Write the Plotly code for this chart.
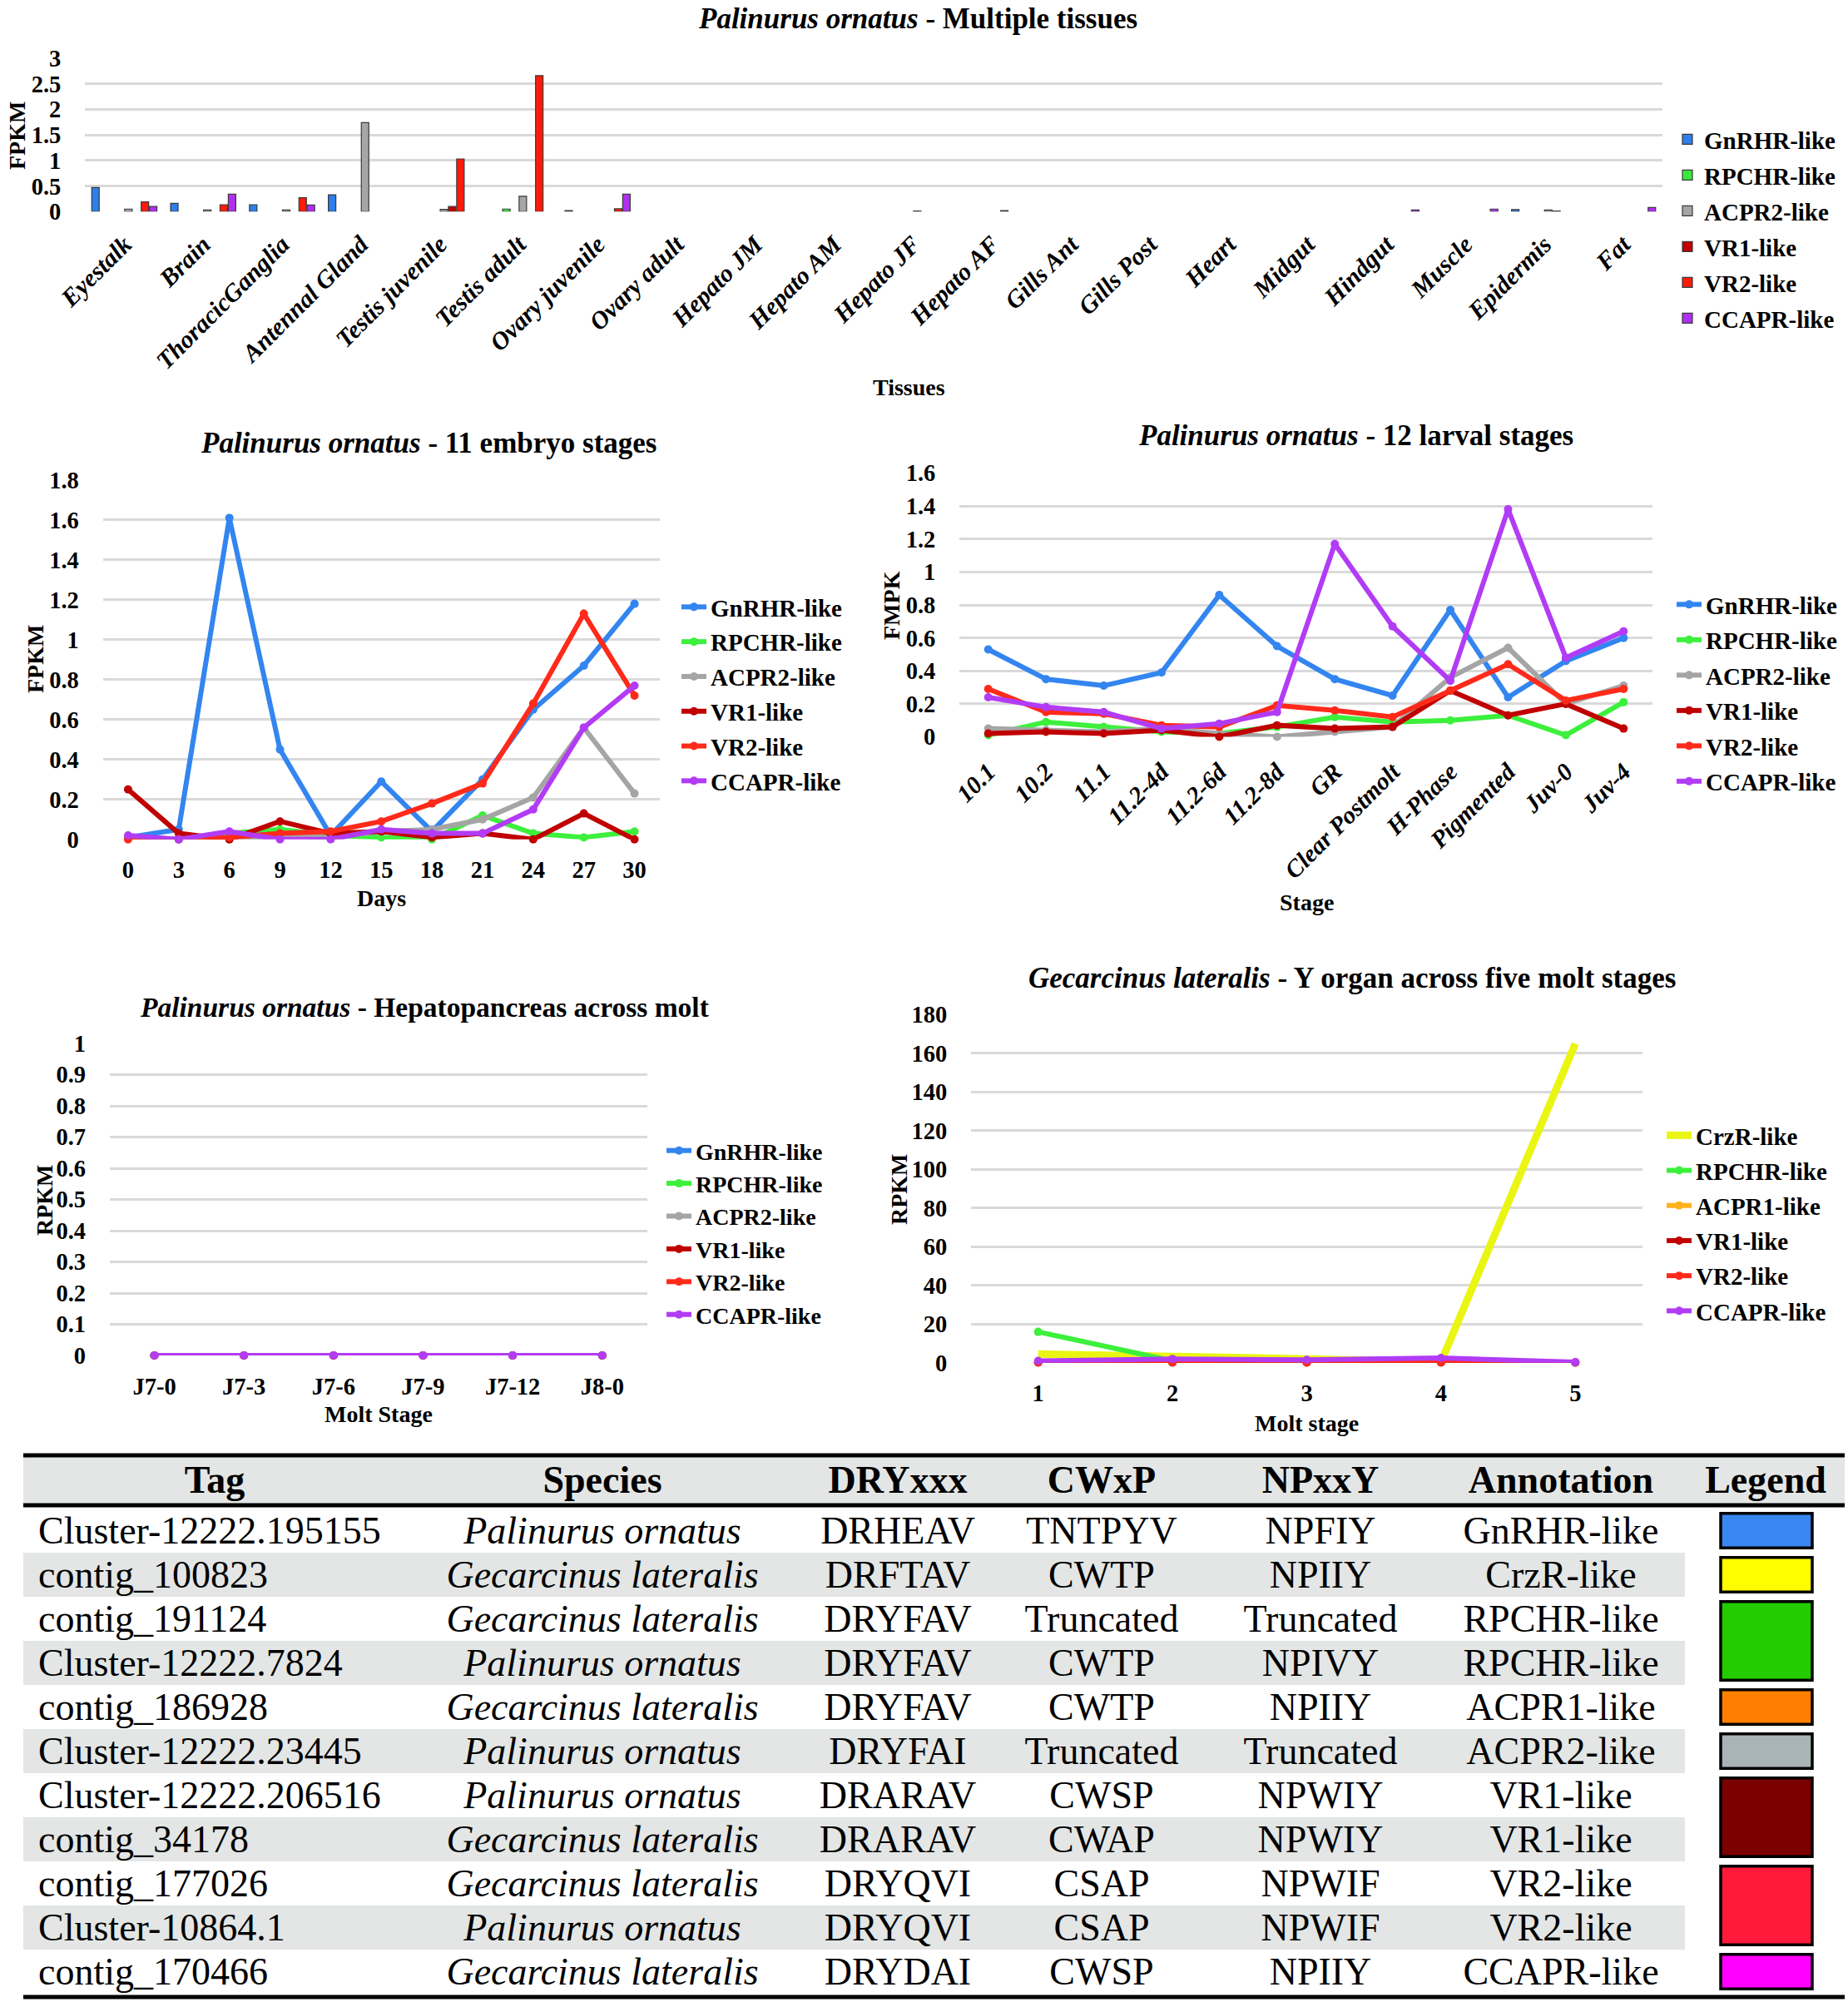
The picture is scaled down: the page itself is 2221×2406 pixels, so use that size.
import plotly.graph_objects as go

# ---------------- DATA ----------------
tissues = ["Eyestalk", "Brain", "ThoracicGanglia", "Antennal Gland", "Testis juvenile",
           "Testis adult", "Ovary juvenile", "Ovary adult", "Hepato JM", "Hepato AM",
           "Hepato JF", "Hepato AF", "Gills Ant", "Gills Post", "Heart", "Midgut",
           "Hindgut", "Muscle", "Epidermis", "Fat"]
tissue_gnrhr = [0.47, 0.16, 0.135, 0.33, 0, 0, 0.02, 0, 0, 0, 0, 0, 0, 0, 0, 0, 0, 0, 0.04, 0]
tissue_rpchr = [0, 0, 0, 0, 0, 0.05, 0, 0, 0, 0, 0, 0, 0, 0, 0, 0, 0, 0, 0, 0]
tissue_acpr2 = [0.05, 0.03, 0.03, 1.74, 0.045, 0.30, 0, 0, 0, 0, 0.01, 0, 0, 0, 0, 0, 0, 0, 0.03, 0]
tissue_vr1 = [0, 0, 0, 0, 0.10, 0, 0, 0, 0, 0, 0, 0.02, 0, 0, 0, 0, 0, 0, 0.01, 0]
tissue_vr2 = [0.19, 0.135, 0.27, 0, 1.03, 2.66, 0.055, 0, 0, 0, 0, 0, 0, 0, 0, 0, 0, 0, 0, 0]
tissue_ccapr = [0.10, 0.34, 0.13, 0, 0, 0, 0.34, 0, 0, 0, 0, 0, 0, 0, 0, 0, 0.03, 0.05, 0, 0.08]

days = ["0", "3", "6", "9", "12", "15", "18", "21", "24", "27", "30"]
emb_gnrhr = [0.01, 0.05, 1.61, 0.45, 0.02, 0.29, 0.04, 0.30, 0.65, 0.87, 1.18]
emb_rpchr = [0.01, 0.0, 0.03, 0.05, 0.02, 0.01, 0.0, 0.12, 0.03, 0.01, 0.04]
emb_acpr2 = [0.01, 0.0, 0.0, 0.02, 0.01, 0.04, 0.05, 0.10, 0.21, 0.56, 0.23]
emb_vr1 = [0.25, 0.03, 0.0, 0.09, 0.03, 0.04, 0.01, 0.03, 0.0, 0.13, 0.0]
emb_vr2 = [0.0, 0.0, 0.01, 0.03, 0.04, 0.09, 0.18, 0.28, 0.68, 1.13, 0.72]
emb_ccapr = [0.02, 0.0, 0.04, 0.0, 0.0, 0.05, 0.03, 0.03, 0.15, 0.56, 0.77]

larval_stages = ["10.1", "10.2", "11.1", "11.2-4d", "11.2-6d", "11.2-8d", "GR",
                 "Clear Postmolt", "H-Phase", "Pigmented", "Juv-0", "Juv-4"]
lar_gnrhr = [0.53, 0.35, 0.31, 0.39, 0.86, 0.55, 0.35, 0.25, 0.77, 0.24, 0.46, 0.60]
lar_rpchr = [0.01, 0.09, 0.06, 0.03, 0.02, 0.06, 0.12, 0.09, 0.10, 0.13, 0.01, 0.21]
lar_acpr2 = [0.05, 0.04, 0.03, 0.05, 0.02, 0.0, 0.03, 0.06, 0.36, 0.54, 0.20, 0.31]
lar_vr1 = [0.02, 0.03, 0.02, 0.04, 0.0, 0.07, 0.05, 0.06, 0.28, 0.13, 0.20, 0.05]
lar_vr2 = [0.29, 0.15, 0.14, 0.07, 0.06, 0.19, 0.16, 0.12, 0.28, 0.44, 0.22, 0.29]
lar_ccapr = [0.24, 0.18, 0.15, 0.05, 0.08, 0.15, 1.17, 0.67, 0.34, 1.38, 0.48, 0.64]

molt_stages = ["J7-0", "J7-3", "J7-6", "J7-9", "J7-12", "J8-0"]
hep_gnrhr = [0, 0, 0, 0, 0, 0]
hep_rpchr = [0, 0, 0, 0, 0, 0]
hep_acpr2 = [0, 0, 0, 0, 0, 0]
hep_vr1 = [0, 0, 0, 0, 0, 0]
hep_vr2 = [0, 0, 0, 0, 0, 0]
hep_ccapr = [0, 0, 0, 0, 0, 0]

gl_stages = ["1", "2", "3", "4", "5"]
gl_crzr = [4.5, 3.5, 2.0, 0.5, 165.0]
gl_rpchr = [16.0, 1.0, 0.5, 0.5, 0.2]
gl_acpr1 = [0.4, 0.3, 0.3, 0.3, 0.2]
gl_vr1 = [0.2, 0.2, 0.1, 0.2, 0.1]
gl_vr2 = [0.1, 0.1, 0.1, 0.1, 0.1]
gl_ccapr = [1.0, 2.0, 1.5, 2.5, 0.3]

table_header = ["Tag", "Species", "DRYxxx", "CWxP", "NPxxY", "Annotation", "Legend"]
tbl_tag = ["Cluster-12222.195155", "contig_100823", "contig_191124", "Cluster-12222.7824",
           "contig_186928", "Cluster-12222.23445", "Cluster-12222.206516", "contig_34178",
           "contig_177026", "Cluster-10864.1", "contig_170466"]
tbl_species = ["Palinurus ornatus", "Gecarcinus lateralis", "Gecarcinus lateralis",
               "Palinurus ornatus", "Gecarcinus lateralis", "Palinurus ornatus",
               "Palinurus ornatus", "Gecarcinus lateralis", "Gecarcinus lateralis",
               "Palinurus ornatus", "Gecarcinus lateralis"]
tbl_dry = ["DRHEAV", "DRFTAV", "DRYFAV", "DRYFAV", "DRYFAV", "DRYFAI", "DRARAV", "DRARAV",
           "DRYQVI", "DRYQVI", "DRYDAI"]
tbl_cwxp = ["TNTPYV", "CWTP", "Truncated", "CWTP", "CWTP", "Truncated", "CWSP", "CWAP",
            "CSAP", "CSAP", "CWSP"]
tbl_npxxy = ["NPFIY", "NPIIY", "Truncated", "NPIVY", "NPIIY", "Truncated", "NPWIY", "NPWIY",
             "NPWIF", "NPWIF", "NPIIY"]
tbl_annot = ["GnRHR-like", "CrzR-like", "RPCHR-like", "RPCHR-like", "ACPR1-like", "ACPR2-like",
             "VR1-like", "VR1-like", "VR2-like", "VR2-like", "CCAPR-like"]

# ---------------- STYLE ----------------
W, H = 2221, 2406
FONT = "Liberation Serif"
LINE_COL = {"GnRHR-like": "#3385F0", "RPCHR-like": "#3CF03C", "ACPR2-like": "#A5A5A5",
            "VR1-like": "#C00000", "VR2-like": "#FF2A1A", "CCAPR-like": "#B23CF5",
            "CrzR-like": "#EAF514", "ACPR1-like": "#FFB21A"}
BAR_COL = {"GnRHR-like": "#2E7FE8", "RPCHR-like": "#3CE63C", "ACPR2-like": "#A6A6A6",
           "VR1-like": "#C00000", "VR2-like": "#FF1A0A", "CCAPR-like": "#B030F0"}
SWATCH_COL = {"GnRHR-like": "#3A86F0", "CrzR-like": "#FFFF00", "RPCHR-like": "#22CC00",
              "ACPR1-like": "#FF8000", "ACPR2-like": "#A9B4B6", "VR1-like": "#7B0000",
              "VR2-like": "#FF1A3C", "CCAPR-like": "#FF00FF"}
GRID = "#D9D9D9"


def fx(p):
    return p / W


def fy(p):
    return 1 - p / H


fig = go.Figure()

# ---------------- top bar chart ----------------
slot = 0.1045
bar_series = [("GnRHR-like", tissue_gnrhr, 0), ("RPCHR-like", tissue_rpchr, 2),
              ("ACPR2-like", tissue_acpr2, 4), ("VR1-like", tissue_vr1, 5),
              ("VR2-like", tissue_vr2, 6), ("CCAPR-like", tissue_ccapr, 7)]
for i, (name, vals, k) in enumerate(bar_series):
    fig.add_trace(go.Bar(
        x=tissues, y=[v if v > 0 else None for v in vals], name=name,
        marker=dict(color=BAR_COL[name], line=dict(color="#3a3a3a", width=1.2)),
        width=0.095, offset=(k - 3.5) * slot - 0.0475,
        xaxis="x", yaxis="y", legend="legend", legendgroup="t%d" % i))


def add_lines(xcats, series, xa, ya, leg, prefix, width=6, msize=10):
    for i, (name, vals) in enumerate(series):
        is_crz = name == "CrzR-like"
        fig.add_trace(go.Scatter(
            x=xcats, y=vals, name=name,
            mode="lines" if is_crz else "lines+markers",
            line=dict(color=LINE_COL[name], width=9 if is_crz else width),
            marker=dict(size=msize, color=LINE_COL[name]),
            cliponaxis=False, xaxis=xa, yaxis=ya, legend=leg,
            legendgroup="%s%d" % (prefix, i)))


add_lines(days, [("GnRHR-like", emb_gnrhr), ("RPCHR-like", emb_rpchr),
                 ("ACPR2-like", emb_acpr2), ("VR1-like", emb_vr1),
                 ("VR2-like", emb_vr2), ("CCAPR-like", emb_ccapr)],
          "x2", "y2", "legend2", "e")
add_lines(larval_stages, [("GnRHR-like", lar_gnrhr), ("RPCHR-like", lar_rpchr),
                          ("ACPR2-like", lar_acpr2), ("VR1-like", lar_vr1),
                          ("VR2-like", lar_vr2), ("CCAPR-like", lar_ccapr)],
          "x3", "y3", "legend3", "l")
add_lines(molt_stages, [("GnRHR-like", hep_gnrhr), ("RPCHR-like", hep_rpchr),
                        ("ACPR2-like", hep_acpr2), ("VR1-like", hep_vr1),
                        ("VR2-like", hep_vr2), ("CCAPR-like", hep_ccapr)],
          "x4", "y4", "legend4", "h")
add_lines(gl_stages, [("CrzR-like", gl_crzr), ("RPCHR-like", gl_rpchr),
                      ("ACPR1-like", gl_acpr1), ("VR1-like", gl_vr1),
                      ("VR2-like", gl_vr2), ("CCAPR-like", gl_ccapr)],
          "x5", "y5", "legend5", "g")

# ---------------- table (on its own hidden axes: x in px, y in rows) ----------------
TAB_L, TAB_R = 28, 2217
STRIPE_R = 2025
ROW_H = 53.0
ROW0_CENTER = 1839.5
TXT_DY = 0.08


def rowpos(pix):
    return (pix - ROW0_CENTER) / ROW_H


header_y = rowpos(1782)
col_x = [258, 724, 1079, 1324, 1587, 1876, 2122]
rows = list(range(len(tbl_tag)))
row_y = [r + TXT_DY for r in rows]

fig.add_trace(go.Scatter(x=col_x, y=[header_y] * len(table_header),
                         text=["<b>%s</b>" % h for h in table_header], mode="text",
                         textposition="middle center",
                         textfont=dict(family=FONT, size=46, color="black"),
                         xaxis="x6", yaxis="y6", showlegend=False, hoverinfo="skip"))
fig.add_trace(go.Scatter(x=[46] * len(rows), y=row_y, text=tbl_tag, mode="text",
                         textposition="middle right",
                         textfont=dict(family=FONT, size=46, color="black"),
                         xaxis="x6", yaxis="y6", showlegend=False, hoverinfo="skip"))
for cx, col, ital in [(col_x[1], tbl_species, True), (col_x[2], tbl_dry, False),
                      (col_x[3], tbl_cwxp, False), (col_x[4], tbl_npxxy, False),
                      (col_x[5], tbl_annot, False)]:
    fig.add_trace(go.Scatter(x=[cx] * len(rows), y=row_y,
                             text=[("<i>%s</i>" % t) if ital else t for t in col],
                             mode="text", textposition="middle center",
                             textfont=dict(family=FONT, size=46, color="black"),
                             xaxis="x6", yaxis="y6", showlegend=False, hoverinfo="skip"))

shapes = []
shapes.append(dict(type="rect", xref="x6", yref="y6", x0=TAB_L, x1=TAB_R,
                   y0=rowpos(1750), y1=rowpos(1808), fillcolor="#E3E6E5",
                   line=dict(width=0), layer="below"))
for r in rows:
    if r % 2 == 1:
        shapes.append(dict(type="rect", xref="x6", yref="y6", x0=TAB_L, x1=STRIPE_R,
                           y0=r - 0.5, y1=r + 0.5, fillcolor="#E3E6E5",
                           line=dict(width=0), layer="below"))
for p in (1749, 1809, 2400):
    shapes.append(dict(type="line", xref="x6", yref="y6", x0=TAB_L, x1=TAB_R,
                       y0=rowpos(p), y1=rowpos(p), line=dict(color="black", width=5)))
start = 0
for r in rows + [len(rows)]:
    if r == len(rows) or tbl_annot[r] != tbl_annot[start]:
        shapes.append(dict(type="rect", xref="x6", yref="y6", x0=2068, x1=2178,
                           y0=start - 0.5 + 0.11, y1=r - 1 + 0.5 - 0.11,
                           fillcolor=SWATCH_COL[tbl_annot[start]],
                           line=dict(color="black", width=3.5)))
        start = r

# ---------------- annotations (titles / axis titles) ----------------
ann = []


def text(x, y, s, size=29, angle=0):
    ann.append(dict(x=fx(x), y=fy(y), xref="paper", yref="paper", text=s, showarrow=False,
                    textangle=angle, xanchor="center", yanchor="middle",
                    font=dict(family=FONT, size=size, color="black")))


text(1103, 23, "<b><i>Palinurus ornatus</i> - Multiple tissues</b>", 35)
text(515, 532, "<b><i>Palinurus ornatus</i> - 11 embryo stages</b>", 35)
text(1629, 523, "<b><i>Palinurus ornatus</i> - 12 larval stages</b>", 35)
text(510, 1210, "<b><i>Palinurus ornatus</i> - Hepatopancreas across molt</b>", 33.5)
text(1625, 1175, "<b><i>Gecarcinus lateralis</i> - Y organ across five molt stages</b>", 35)

text(1092, 466, "<b>Tissues</b>", 28)
text(21, 163, "<b>FPKM</b>", 28, -90)
text(458, 1079, "<b>Days</b>", 28)
text(43, 792, "<b>FPKM</b>", 28, -90)
text(1570, 1084, "<b>Stage</b>", 28)
text(1071, 728, "<b>FMPK</b>", 28, -90)
text(455, 1699, "<b>Molt Stage</b>", 28)
text(53, 1442, "<b>RPKM</b>", 28, -90)
text(1570, 1710, "<b>Molt stage</b>", 28)
text(1080, 1429, "<b>RPKM</b>", 28, -90)

# ---------------- axes ----------------
TICKF = dict(family=FONT, size=28.5, color="black", weight="bold")


def xax(d0, d1, n, anchor, angle=0, italic=False, standoff=11, size=28.5):
    return dict(domain=[fx(d0), fx(d1)], range=[-0.5, n - 0.5], type="category",
                anchor=anchor, showgrid=False, zeroline=False, showline=False,
                ticks="outside", ticklen=standoff, tickcolor="rgba(0,0,0,0)",
                tickangle=angle, fixedrange=True, automargin=False,
                tickfont=dict(TICKF, size=size, style="italic" if italic else "normal"))


def yax(top, bottom, rng, dtick, anchor):
    return dict(domain=[fy(bottom), fy(top)], range=rng, dtick=dtick, anchor=anchor,
                showgrid=True, gridcolor=GRID, gridwidth=2.5, zeroline=False,
                showline=False, ticks="outside", ticklen=22, tickcolor="rgba(0,0,0,0)",
                tickfont=TICKF, fixedrange=True, automargin=False)


def legend(left, top, gap, size=29):
    return dict(x=fx(left), y=fy(top), xanchor="left", yanchor="top",
                font=dict(family=FONT, size=size, color="black", weight="bold"),
                bgcolor="rgba(0,0,0,0)", traceorder="grouped", tracegroupgap=gap,
                itemwidth=30, itemclick=False, itemdoubleclick=False)


fig.update_layout(
    width=W, height=H, autosize=False,
    margin=dict(l=0, r=0, t=0, b=0, pad=0, autoexpand=False),
    paper_bgcolor="white", plot_bgcolor="white",
    barmode="overlay",
    xaxis=xax(102, 1998, len(tissues), "y", angle=-45, italic=True, standoff=9, size=30),
    yaxis=yax(70, 254.3, [0, 3], 0.5, "x"),
    xaxis2=xax(123.5, 793, len(days), "y2", standoff=11),
    yaxis2=yax(576.8, 1008.8, [0, 1.8], 0.2, "x2"),
    xaxis3=xax(1153, 1986, len(larval_stages), "y3", angle=-45, italic=True, standoff=12,
               size=29.5),
    yaxis3=yax(568.5, 885.5, [0, 1.6], 0.2, "x3"),
    xaxis4=xax(131.7, 777.6, len(molt_stages), "y4", standoff=12),
    yaxis4=yax(1254, 1629, [0, 1], 0.1, "x4"),
    xaxis5=xax(1167, 1974, len(gl_stages), "y5", standoff=11),
    yaxis5=yax(1219.5, 1637.8, [0, 180], 20, "x5"),
    xaxis6=dict(domain=[0, 1], range=[0, W], visible=False, fixedrange=True, anchor="y6"),
    yaxis6=dict(domain=[fy(2404), fy(1744)], range=[rowpos(2404), rowpos(1744)],
                visible=False, fixedrange=True, anchor="x6"),
    legend=legend(2008, 142, 2.3),
    legend2=legend(814, 704, 1.1),
    legend3=legend(2010, 701, 1.8),
    legend4=legend(796, 1358, 0, size=28),
    legend5=legend(1998, 1339, 1.5),
    shapes=shapes,
    annotations=ann,
    showlegend=True,
)

fig.write_html("out.html", config={"displayModeBar": False},
               post_script="document.body.style.margin='0px';")
